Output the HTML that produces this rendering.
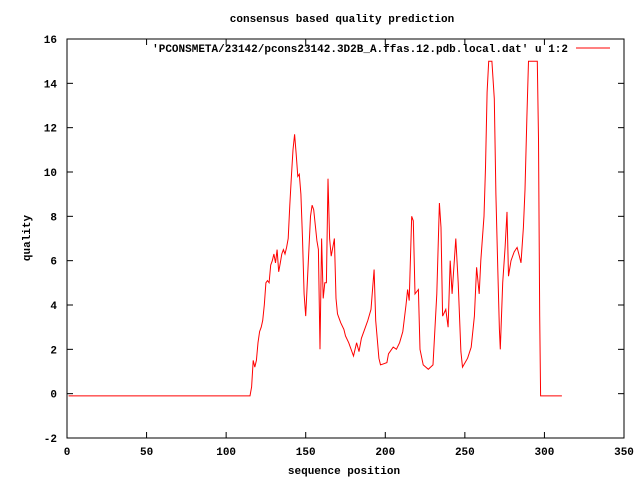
<!DOCTYPE html>
<html><head><meta charset="utf-8"><style>
body{margin:0;background:#fff}
svg text{font-family:"Liberation Mono","DejaVu Sans Mono",monospace;font-size:11px;font-weight:bold;fill:#000}
</style></head><body>
<svg id="chart" width="640" height="480" xmlns="http://www.w3.org/2000/svg">
<text x="342" y="22" text-anchor="middle">consensus based quality prediction</text>
<g id="axes"></g>
<text x="344" y="474" text-anchor="middle">sequence position</text>
<text transform="translate(30,238) rotate(-90)" text-anchor="middle">quality</text>
<g>
<text x="568" y="52" text-anchor="end">'PCONSMETA/23142/pcons23142.3D2B_A.ffas.12.pdb.local.dat' u 1:2</text>
<line x1="576" y1="48" x2="610" y2="48" stroke="#f00" stroke-width="1"/>
</g>
<g id="series"></g>
</svg>
<script>
const positions=[1,115,116,117,118,119,120,121,122,123,124,125,126,127,128,129,130,131,132,133,134,135,136,137,138,139,140,141,142,143,144,145,146,147,148,149,150,151,152,153,154,155,156,157,158,159,160,161,162,163,164,165,166,167,168,169,170,171,172,174,175,177,180,182,183.5,185,187,189,191,193,194,196,197,201,202,205,207,209,211,213,214,215,216.6,217.6,218.7,220.8,221.8,223.8,227,230,232.4,234,235,236,238,239.5,240.8,242,244.3,245.8,247.5,248.5,251.7,254,256,257.4,259,260,262,263,264,265,267,268.5,269.5,270.7,271.7,272.3,273.8,275.3,276.5,277.4,279,281,282.8,284.3,285.3,286.8,287.8,289,290,295.5,296.3,297,297.6,311];
const quality=[-0.1,-0.1,0.3,1.5,1.2,1.5,2.3,2.8,3.0,3.3,4.0,5.0,5.1,5.0,5.8,6.0,6.3,5.9,6.5,5.5,5.9,6.3,6.5,6.3,6.6,7.0,8.5,9.8,11.0,11.7,10.8,9.8,9.9,9.0,7.0,4.5,3.5,5.0,6.5,8.0,8.5,8.3,7.6,6.9,6.5,2.0,7.0,4.3,5.0,5.0,9.7,7.0,6.2,6.6,7.0,4.3,3.6,3.4,3.2,2.9,2.6,2.3,1.7,2.3,1.9,2.5,2.9,3.3,3.8,5.6,3.3,1.6,1.3,1.4,1.8,2.1,2.0,2.3,2.8,4.0,4.7,4.2,8.0,7.8,4.5,4.7,2.0,1.3,1.1,1.3,4.5,8.6,7.5,3.5,3.8,3.0,6.0,4.5,7.0,5.0,1.9,1.2,1.6,2.1,3.5,5.7,4.5,6.0,8.0,10.2,13.6,15,15,13.3,9.0,5.6,2.9,2.0,5.0,6.6,8.2,5.3,6.0,6.4,6.6,6.2,5.9,7.5,9.2,12.5,15,15,11.5,3.5,-0.1,-0.1];
const xTicks=[0,50,100,150,200,250,300,350];
const yTicks=[-2,0,2,4,6,8,10,12,14,16];
const L=67,R=624,T=39,B=438;
const xs=v=>L+(v-0)/350*(R-L);
const ys=v=>B-(v+2)/18*(B-T);
const NS="http://www.w3.org/2000/svg";
const axes=document.getElementById('axes');
function mk(tag,attrs,parent){const e=document.createElementNS(NS,tag);for(const k in attrs)e.setAttribute(k,attrs[k]);parent.appendChild(e);return e;}
const frame=mk('rect',{x:L,y:T,width:R-L,height:B-T,fill:'none',stroke:'#000','stroke-width':1},axes);


xTicks.forEach(t=>{const x=xs(t);
 const a=mk('line',{x1:x,y1:B,x2:x,y2:B-6,stroke:'#000'},axes);
 
 
 const b=mk('line',{x1:x,y1:T,x2:x,y2:T+6,stroke:'#000'},axes);
 
 
 const tx=mk('text',{x:x,y:B+17,'text-anchor':'middle'},axes);tx.textContent=t;
 
 
});
yTicks.forEach(t=>{const y=ys(t);
 const a=mk('line',{x1:L,y1:y,x2:L+6,y2:y,stroke:'#000'},axes);
 
 
 const b=mk('line',{x1:R,y1:y,x2:R-6,y2:y,stroke:'#000'},axes);
 
 
 const tx=mk('text',{x:L-10,y:y+4,'text-anchor':'end'},axes);tx.textContent=t;
 
 
});
const pts=positions.map((p,i)=>xs(p).toFixed(1)+','+ys(quality[i]).toFixed(1)).join(' ');
const line=mk('polyline',{points:pts,fill:'none',stroke:'#f00','stroke-width':1},document.getElementById('series'));


</script>
</body></html>
